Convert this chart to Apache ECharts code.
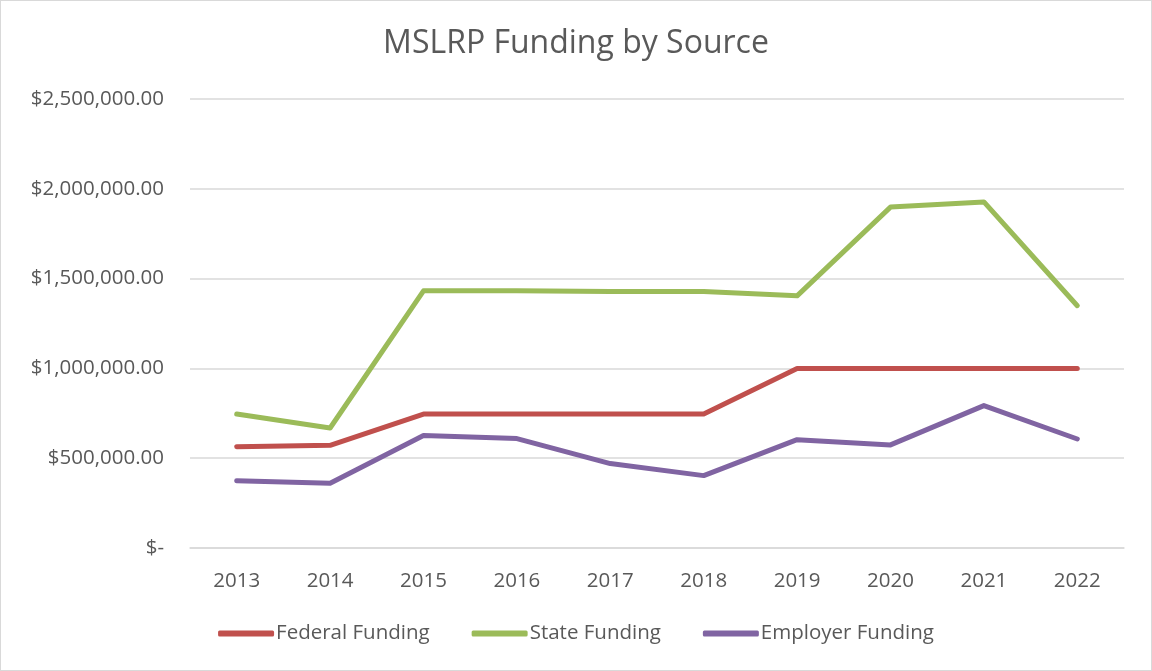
<!DOCTYPE html>
<html>
<head>
<meta charset="utf-8">
<script src="https://cdn.jsdelivr.net/npm/echarts@6/dist/echarts.min.js"></script>
<style>
html,body{margin:0;padding:0;background:#fff;}
#chart{width:1150px;height:669px;border:1px solid #D9D9D9;}
</style>
</head>
<body>
<div id="chart"></div>
<script>
const years = ['2013','2014','2015','2016','2017','2018','2019','2020','2021','2022'];
const federalFunding = [564000, 572000, 746000, 746000, 746000, 746000, 1000000, 1000000, 1000000, 1000000];
const stateFunding = [746000, 668000, 1432000, 1432000, 1428000, 1428000, 1404000, 1898000, 1927000, 1349000];
const employerFunding = [375000, 360000, 626000, 609000, 470000, 403000, 603000, 574000, 793000, 607000];
const yTicks = [0, 500000, 1000000, 1500000, 2000000, 2500000];

const font = 'Open Sans';
const txt = '#595959';
const chart = echarts.init(document.getElementById('chart'));
function fmt(v){
  if (v === 0) return '$-';
  return '$' + v.toLocaleString('en-US',{minimumFractionDigits:2,maximumFractionDigits:2});
}
function mk(name, data, color){
  return {name, type:'line', data, symbol:'none', showSymbol:false,
    lineStyle:{color, width:5, cap:'round', join:'round'}, itemStyle:{color}};
}
chart.setOption({
  animation:false,
  title:{text:'MSLRP Funding by Source', left:'center', top:22,
    textStyle:{fontFamily:font, fontSize:32, fontWeight:'normal', color:txt}},
  grid:{left:189, right:27, top:98, bottom:122},
  legend:{bottom:21, left:'center', itemWidth:56, itemHeight:6, itemGap:42, icon:'roundRect',
    textStyle:{fontFamily:font, fontSize:20.5, color:txt, padding:[0,0,0,-3]},
    data:['Federal Funding','State Funding','Employer Funding']},
  xAxis:{type:'category', data:years, boundaryGap:true,
    axisLine:{show:true, lineStyle:{color:'#D9D9D9', width:1.5}},
    axisTick:{show:false},
    axisLabel:{fontFamily:font, fontSize:20.5, color:txt, margin:23}},
  yAxis:{type:'value', min:yTicks[0], max:yTicks[yTicks.length-1], interval:500000,
    axisLine:{show:false}, axisTick:{show:false},
    splitLine:{lineStyle:{color:'#D9D9D9', width:1.5}},
    axisLabel:{fontFamily:font, fontSize:20.5, color:txt, margin:26, formatter:fmt}},
  series:[
    mk('Federal Funding', federalFunding, '#C0504D'),
    mk('State Funding', stateFunding, '#9BBB59'),
    mk('Employer Funding', employerFunding, '#8064A2')
  ]
});
</script>
</body>
</html>
